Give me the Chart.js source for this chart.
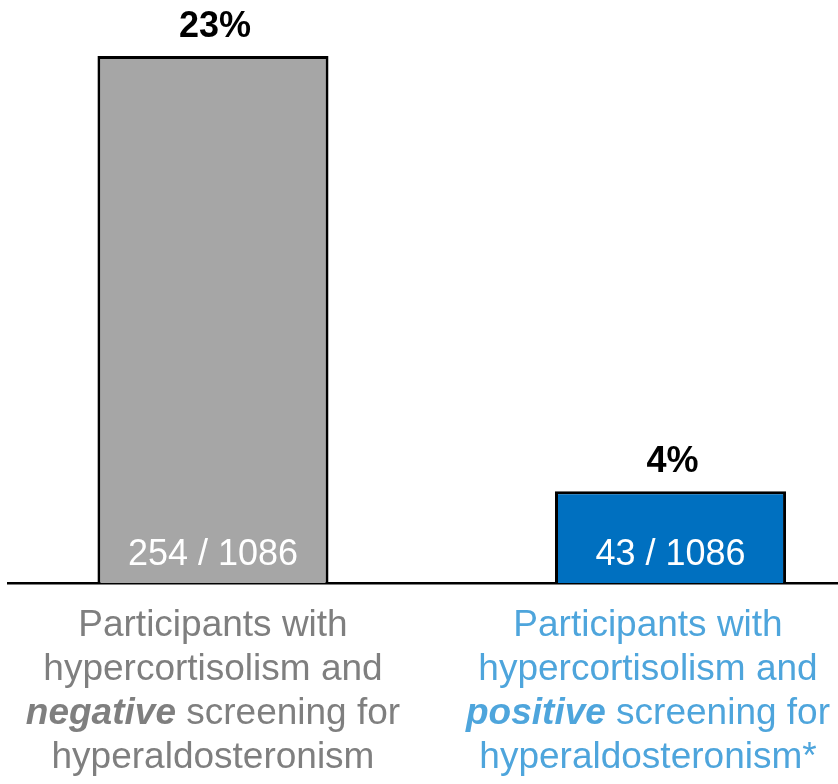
<!DOCTYPE html>
<html>
<head>
<meta charset="utf-8">
<script src="https://cdn.jsdelivr.net/npm/chart.js@4"></script>
<style>
  html, body { margin: 0; padding: 0; background: #fff; }
  #wrap { width: 838px; height: 784px; position: relative; }
</style>
</head>
<body>
<div id="wrap"><canvas id="screeningChart"></canvas></div>
<script>
// words wrapped in _..._ are drawn bold italic
const categories = [
    'Participants with\nhypercortisolism and\n_negative_ screening for\nhyperaldosteronism',
    'Participants with\nhypercortisolism and\n_positive_ screening for\nhyperaldosteronism*'
];
const percents = [23, 4];
const counts = [254, 43];
const totals = [1086, 1086];

const barColors = ['#a6a6a6', '#0070c0'];
const labelColors = ['#7f7f7f', '#4ea5dc'];
const FONT = '"Liberation Sans", Arial, sans-serif';

// split a line into plain / emphasised pieces
function splitLine(line) {
    return line.split('_').map((text, i) => ({ text, em: i % 2 === 1 })).filter(p => p.text);
}

function pieceFont(p) {
    return (p.em ? 'italic bold ' : '') + '37px ' + FONT;
}

const barLabels = {
    id: 'barLabels',
    afterDatasetsDraw(chart) {
        const ctx = chart.ctx;
        const meta = chart.getDatasetMeta(0);
        ctx.save();
        ctx.textAlign = 'center';
        ctx.textBaseline = 'alphabetic';
        meta.data.forEach((bar, i) => {
            ctx.font = 'bold 36px ' + FONT;
            ctx.fillStyle = '#000';
            ctx.fillText(percents[i] + '%', bar.x + 2, bar.y - 19);

            ctx.font = '36px ' + FONT;
            ctx.fillStyle = '#fff';
            ctx.fillText(counts[i] + ' / ' + totals[i], bar.x, bar.base - 18);
        });
        ctx.restore();
    },
    afterDraw(chart) {
        const ctx = chart.ctx;
        const xScale = chart.scales.x;
        const bottom = chart.chartArea.bottom;
        ctx.save();
        ctx.textAlign = 'left';
        ctx.textBaseline = 'alphabetic';
        categories.forEach((cat, i) => {
            const lines = cat.split('\n').map(splitLine);
            const widths = lines.map(pieces => pieces.reduce((w, p) => {
                ctx.font = pieceFont(p);
                return w + ctx.measureText(p.text).width;
            }, 0));
            const blockW = Math.max(...widths);
            let cx = xScale.getPixelForValue(i);
            // keep the text block inside the canvas
            cx = Math.min(cx, chart.width - 8 - blockW / 2);
            cx = Math.max(cx, 8 + blockW / 2);
            ctx.fillStyle = labelColors[i];
            lines.forEach((pieces, k) => {
                let x = cx - widths[k] / 2;
                const y = bottom + 53 + k * 44;
                pieces.forEach(p => {
                    ctx.font = pieceFont(p);
                    ctx.fillText(p.text, x, y);
                    x += ctx.measureText(p.text).width;
                });
            });
        });
        ctx.restore();
    }
};

new Chart(document.getElementById('screeningChart'), {
    type: 'bar',
    data: {
        datasets: [{
            data: percents.map((v, i) => ({ x: i, y: v })),
            backgroundColor: barColors,
            borderColor: '#000',
            borderWidth: 3,
            categoryPercentage: 1,
            barPercentage: 0.505
        }]
    },
    options: {
        responsive: true,
        maintainAspectRatio: false,
        animation: false,
        layout: { padding: { left: 8, right: 0, top: 0, bottom: 201 } },
        plugins: {
            legend: { display: false },
            tooltip: { enabled: false }
        },
        scales: {
            x: {
                type: 'linear',
                offset: false,
                min: -0.448,
                max: 1.366,
                afterBuildTicks: scale => {
                    scale.ticks = categories.map((_, i) => ({ value: i }));
                },
                ticks: { display: false },
                grid: { display: false, drawTicks: false },
                border: { display: true, color: '#000', width: 2.5 }
            },
            y: {
                display: false,
                min: 0,
                max: 25.44
            }
        }
    },
    plugins: [barLabels]
});
</script>
</body>
</html>
